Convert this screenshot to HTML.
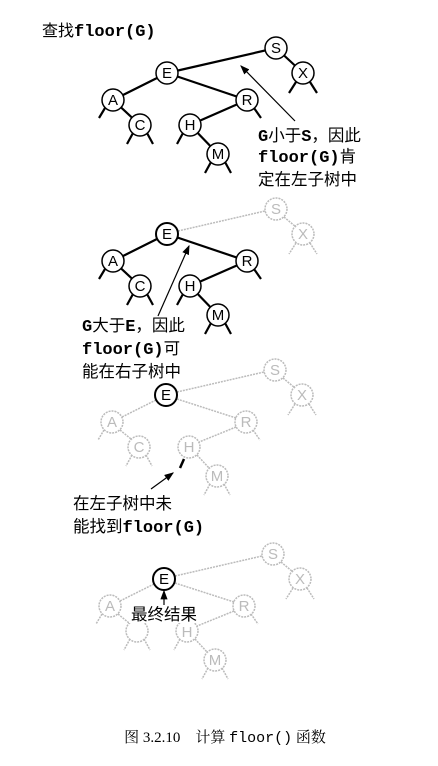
<!DOCTYPE html><html><head><style>body{margin:0;background:#fff}svg{display:block}
text{font-family:"Liberation Sans","Noto Sans CJK SC",sans-serif}
.m{font-family:"Liberation Mono","Noto Sans CJK SC",monospace;font-weight:bold;font-size:17px}</style></head><body>
<svg width="438" height="766" viewBox="0 0 438 766" xmlns="http://www.w3.org/2000/svg">
<defs>
<marker id="ar" markerWidth="8" markerHeight="6" refX="7" refY="3" orient="auto"><path d="M0,0L8,3L0,6z" fill="#000"/></marker>
</defs>
<text x="42" y="36" font-size="16">查找<tspan class="m">floor(G)</tspan></text>

<!-- Tree 1 -->
<g stroke="#000" stroke-width="2.2" fill="none">
<line x1="167" y1="73" x2="276" y2="48"/><line x1="276" y1="48" x2="303" y2="73"/>
<line x1="167" y1="73" x2="113" y2="100"/><line x1="167" y1="73" x2="247" y2="100"/>
<line x1="113" y1="100" x2="140" y2="125"/><line x1="247" y1="100" x2="190" y2="125"/>
<line x1="190" y1="125" x2="218" y2="154"/>
<path d="M296,82l-7,11M310,82l7,11M105,108l-6,10M254,108l7,10M133,133l-6,11M147,133l6,11M183,133l-6,11M211,162l-6,11M225,162l6,11"/>
</g>
<g stroke="#000" stroke-width="1.5" fill="#fff">
<circle cx="276" cy="48" r="11"/><circle cx="303" cy="73" r="11"/><circle cx="167" cy="73" r="11"/><circle cx="113" cy="100" r="11"/><circle cx="247" cy="100" r="11"/><circle cx="140" cy="125" r="11"/><circle cx="190" cy="125" r="11"/><circle cx="218" cy="154" r="11"/>
</g>
<g font-size="15" text-anchor="middle">
<text x="276" y="53">S</text><text x="303" y="78">X</text><text x="167" y="78">E</text><text x="113" y="105">A</text><text x="247" y="105">R</text><text x="140" y="130">C</text><text x="190" y="130">H</text><text x="218" y="159">M</text>
</g>
<line x1="295" y1="121" x2="241" y2="66" stroke="#000" stroke-width="1.2" marker-end="url(#ar)"/>
<g font-size="16.5"><text x="258" y="141"><tspan class="m">G</tspan>小于<tspan class="m">S</tspan>，因此</text>
<text x="258" y="162"><tspan class="m">floor(G)</tspan>肯</text><text x="258" y="185">定在左子树中</text></g>

<!-- Tree 2 -->
<g transform="translate(0,161)">
<g stroke="#bbb" stroke-width="1.5" stroke-dasharray="2,1" fill="none">
<line x1="178" y1="70" x2="265" y2="50"/><line x1="284" y1="56" x2="296" y2="66"/>
<path d="M296,82l-7,11M310,82l7,11"/>
<circle cx="276" cy="48" r="11"/><circle cx="303" cy="73" r="11"/>
</g>
<g stroke="#000" stroke-width="2.2" fill="none">
<line x1="167" y1="73" x2="113" y2="100"/><line x1="167" y1="73" x2="247" y2="100"/>
<line x1="113" y1="100" x2="140" y2="125"/><line x1="247" y1="100" x2="190" y2="125"/>
<line x1="190" y1="125" x2="218" y2="154"/>
<path d="M105,108l-6,10M254,108l7,10M133,133l-6,11M147,133l6,11M183,133l-6,11M211,162l-6,11M225,162l6,11"/>
</g>
<g stroke="#000" stroke-width="1.5" fill="#fff">
<circle cx="167" cy="73" r="11" stroke-width="2"/><circle cx="113" cy="100" r="11"/><circle cx="247" cy="100" r="11"/><circle cx="140" cy="125" r="11"/><circle cx="190" cy="125" r="11"/><circle cx="218" cy="154" r="11"/>
</g>
<g font-size="15" text-anchor="middle">
<text x="276" y="53" fill="#bbb">S</text><text x="303" y="78" fill="#bbb">X</text><text x="167" y="78">E</text><text x="113" y="105">A</text><text x="247" y="105">R</text><text x="140" y="130">C</text><text x="190" y="130">H</text><text x="218" y="159">M</text>
</g>
</g>
<line x1="158" y1="316" x2="189" y2="246" stroke="#000" stroke-width="1.2" marker-end="url(#ar)"/>
<g font-size="16.5"><text x="82" y="331"><tspan class="m">G</tspan>大于<tspan class="m">E</tspan>，因此</text>
<text x="82" y="354"><tspan class="m">floor(G)</tspan>可</text><text x="82" y="377">能在右子树中</text></g>

<!-- Tree 3 -->
<g transform="translate(-1,322)">
<g stroke="#bbb" stroke-width="1.5" stroke-dasharray="2,1" fill="none">
<line x1="178" y1="70" x2="265" y2="50"/><line x1="284" y1="56" x2="296" y2="66"/>
<line x1="157" y1="78" x2="123" y2="95"/><line x1="178" y1="77" x2="237" y2="96"/>
<line x1="121" y1="108" x2="132" y2="117"/><line x1="237" y1="105" x2="200" y2="120"/>
<line x1="198" y1="133" x2="210" y2="146"/>
<path d="M296,82l-7,11M310,82l7,11M105,108l-6,10M254,108l7,10M133,133l-6,11M147,133l6,11M211,162l-6,11M225,162l6,11"/>
<circle cx="276" cy="48" r="11"/><circle cx="303" cy="73" r="11"/><circle cx="113" cy="100" r="11"/><circle cx="247" cy="100" r="11"/><circle cx="140" cy="125" r="11"/><circle cx="190" cy="125" r="11"/><circle cx="218" cy="154" r="11"/>
</g>
<path d="M185,137l-4,9" stroke="#000" stroke-width="2.5"/>
<circle cx="167" cy="73" r="11" stroke="#000" stroke-width="2" fill="#fff"/>
<g font-size="15" text-anchor="middle" fill="#bbb">
<text x="276" y="53">S</text><text x="303" y="78">X</text><text x="167" y="78" fill="#000">E</text><text x="113" y="105">A</text><text x="247" y="105">R</text><text x="140" y="130">C</text><text x="190" y="130">H</text><text x="218" y="159">M</text>
</g>
</g>
<line x1="151" y1="489" x2="173" y2="473" stroke="#000" stroke-width="1.2" marker-end="url(#ar)"/>
<g font-size="16.5"><text x="73" y="509">在左子树中未</text><text x="73" y="532">能找到<tspan class="m">floor(G)</tspan></text></g>

<!-- Tree 4 -->
<g transform="translate(-3,506)">
<g stroke="#bbb" stroke-width="1.5" stroke-dasharray="2,1" fill="none">
<line x1="178" y1="70" x2="265" y2="50"/><line x1="284" y1="56" x2="296" y2="66"/>
<line x1="157" y1="78" x2="123" y2="95"/><line x1="178" y1="77" x2="237" y2="96"/>
<line x1="121" y1="108" x2="132" y2="117"/><line x1="237" y1="105" x2="200" y2="120"/>
<line x1="198" y1="133" x2="210" y2="146"/>
<path d="M296,82l-7,11M310,82l7,11M105,108l-6,10M254,108l7,10M133,133l-6,11M147,133l6,11M183,133l-6,11M211,162l-6,11M225,162l6,11"/>
<circle cx="276" cy="48" r="11"/><circle cx="303" cy="73" r="11"/><circle cx="113" cy="100" r="11"/><circle cx="247" cy="100" r="11"/><circle cx="140" cy="125" r="11"/><circle cx="190" cy="125" r="11"/><circle cx="218" cy="154" r="11"/>
</g>
<rect x="132" y="96" width="74" height="21" fill="#fff"/>
<circle cx="167" cy="73" r="11" stroke="#000" stroke-width="2" fill="#fff"/>
<g font-size="15" text-anchor="middle" fill="#bbb">
<text x="276" y="53">S</text><text x="303" y="78">X</text><text x="167" y="78" fill="#000">E</text><text x="113" y="105">A</text><text x="247" y="105">R</text><text x="190" y="131">H</text><text x="218" y="159">M</text>
</g>
</g>
<line x1="164" y1="605" x2="164" y2="591" stroke="#000" stroke-width="1.2" marker-end="url(#ar)"/>
<text x="131" y="620" font-size="16.5">最终结果</text>

<text x="225" y="742" text-anchor="middle" font-size="15" style="font-family:'Liberation Serif','Noto Serif CJK SC',serif">图 3.2.10　计算 <tspan style="font-family:'Liberation Mono',monospace">floor()</tspan> 函数</text>
</svg></body></html>
